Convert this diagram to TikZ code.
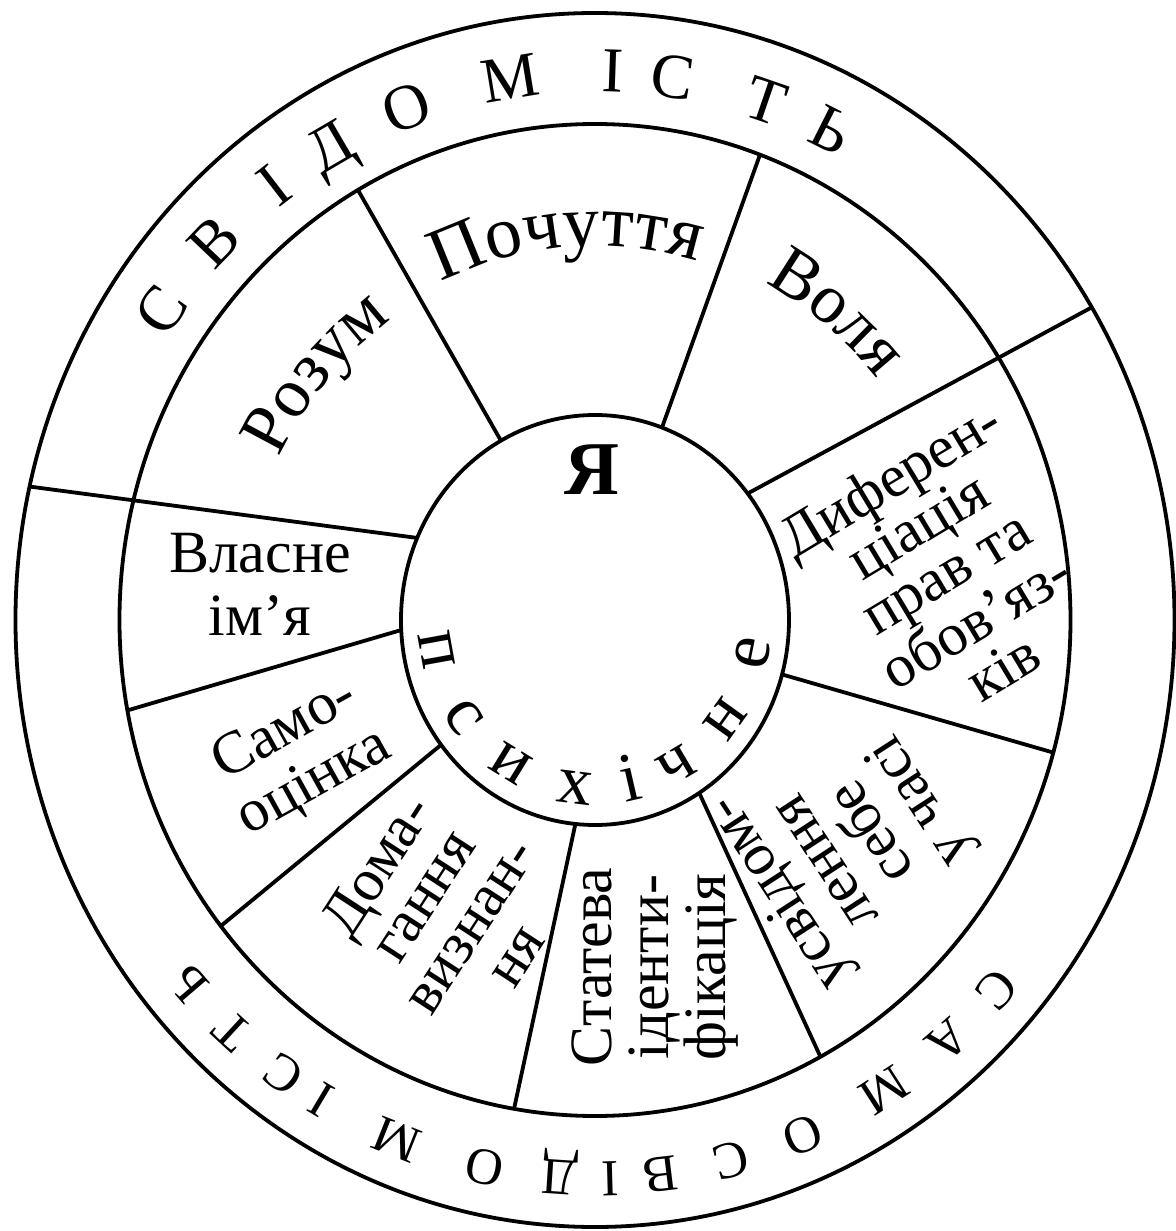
\documentclass[tikz,border=0pt]{standalone}
\usepackage{fontspec}
\setmainfont{Liberation Serif}
\usetikzlibrary{decorations.text}
\newcommand{\segfont}{\fontsize{35}{35}\selectfont}
\newcommand{\segfontb}{\fontsize{37}{37}\selectfont}
\begin{document}
\begin{tikzpicture}[x=0.5pt,y=0.5pt,line width=1.9pt,
  ringtop/.style={font=\fontsize{32}{32}\selectfont, anchor=base, inner sep=0pt},
  ringbot/.style={font=\fontsize{26}{26}\selectfont, anchor=base, inner sep=0pt},
  innerletter/.style={font=\fontsize{35}{35}\selectfont, anchor=base, inner sep=0pt},
  block/.style={align=center, inner sep=0pt},
  seglabel/.style={decorate, decoration={text along path, text align=center}},
]
\useasboundingbox (-595,-611) rectangle (581,620);
% rings
\draw (0,0) ellipse [x radius=579.5, y radius=607];
\draw (0,0) ellipse [x radius=475.5, y radius=496];
\draw (0,0) ellipse [x radius=194, y radius=205];
% spoke end points
\coordinate (i1) at (119:194 and 205);   \coordinate (m1) at (119.9:475.5 and 496);
\coordinate (i2) at (69.8:194 and 205);  \coordinate (m2) at (69.7:475.5 and 496);
\coordinate (i3) at (38.1:194 and 205);  \coordinate (o3) at (31:579.5 and 607);
\coordinate (i4) at (-15.4:194 and 205); \coordinate (m4) at (-15.5:475.5 and 496);
\coordinate (i5) at (-57.5:194 and 205); \coordinate (m5) at (-61.7:475.5 and 496);
\coordinate (i6) at (-95.8:194 and 205); \coordinate (m6) at (-99.8:475.5 and 496);
\coordinate (i7) at (-142.5:194 and 205);\coordinate (m7) at (-141.9:475.5 and 496);
\coordinate (i8) at (-177.2:194 and 205);\coordinate (m8) at (-169.5:475.5 and 496);
\coordinate (i9) at (156.4:194 and 205); \coordinate (o9) at (167.3:579.5 and 607);
\draw (i1) -- (m1);
\draw (i2) -- (m2);
\draw (i3) -- (o3);
\draw (i4) -- (m4);
\draw (i5) -- (m5);
\draw (i6) -- (m6);
\draw (i7) -- (m7);
\draw (i8) -- (m8);
\draw (i9) -- (o9);
% outer ring texts
\foreach \l/\a [count=\k] in {С/145.6, В/136.4, І/127.6, Д/120.3, О/111, М/99.3, І/88, С/81.5, Т/71.1, Ь/63.3}
  \node[ringtop, rotate=\a-90] (top\k) at (\a:505 and 528) {\l};
\foreach \l/\a [count=\k] in {С/-41.4, А/-48.8, М/-57.3, О/-67.2, С/-75.3, В/-83, І/-88.4, Д/-93.8, О/-101.9, М/-111.7, І/-120.8, С/-125.6, Т/-132.7, Ь/-139.4}
  \node[ringbot, rotate=\a-90] (bot\k) at (\a:518 and 542) {\l};
% inner circle
\node[font=\bfseries\fontsize{38}{38}\selectfont, anchor=base, inner sep=0pt] (ya) at (-3,125) {Я};
\foreach \l/\a [count=\k] in {п/-169.7, с/-144.8, и/-121.6, х/-97.1, і/-77, ч/-59.5, н/-35.7, е/-11.3}
  \node[innerletter, rotate=\a+90] (ps\k) at (\a:177 and 185) {\l};
% segment labels on arcs
\path[seglabel, decoration={text={|\segfont|Розум}}] (164.4:352 and 368) arc[start angle=164.4, end angle=114.4, x radius=352, y radius=368];
\path[seglabel, decoration={text={|\segfontb|Почуття}}] (124.4:357 and 374) arc[start angle=124.4, end angle=64.4, x radius=357, y radius=374];
\path[seglabel, decoration={text={|\segfont|Воля}}] (75.9:364 and 381) arc[start angle=75.9, end angle=25.9, x radius=364, y radius=381];
% block labels
\node[block, font=\fontsize{30}{31.5}\selectfont] (vlasne) at (-335,35.5) {Власне\\ім’я};
\node[block, font=\fontsize{30}{30}\selectfont, rotate=29] (samo) at (-295,-137) {Само-\\оцінка};
\node[block, font=\fontsize{30}{27.5}\selectfont, rotate=57] (doma) at (-150,-290) {Дома-\\гання\\визнан-\\ня};
\node[block, font=\fontsize{30}{28.5}\selectfont, rotate=90] (stat) at (60,-347) {Статева\\іденти-\\фікація};
\node[block, font=\fontsize{30}{28}\selectfont, rotate=123] (usv) at (256,-226) {усвідом-\\лення\\себе\\у часі};
\node[block, font=\fontsize{30}{27}\selectfont, rotate=31] (dyf) at (351,48) {Диферен-\\ціація\\прав та\\обов’яз-\\ків};
\end{tikzpicture}
\end{document}
